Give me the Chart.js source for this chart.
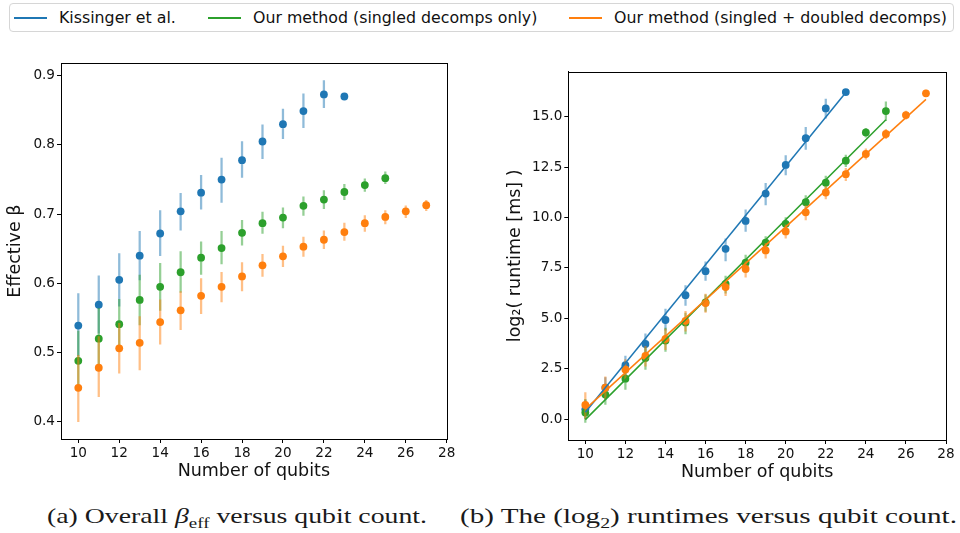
<!DOCTYPE html>
<html><head><meta charset="utf-8">
<script src="https://cdn.jsdelivr.net/npm/chart.js@4/dist/chart.umd.min.js"></script>
<style>
body{margin:0;width:960px;height:533px;background:#fff;position:relative;overflow:hidden;font-family:"DejaVu Sans";}
#legend{position:absolute;left:9px;top:3px;width:945px;height:29px;border:1px solid #d6d6d6;border-radius:4px;box-sizing:border-box;}
.item{position:absolute;top:0;height:27px;display:flex;align-items:center;font-size:15.8px;color:#111;white-space:nowrap}
.sw{display:inline-block;width:33px;height:2px;margin-right:12px}
.wrap{position:absolute;top:40px;width:480px;height:450px}
.cap{position:absolute;top:503px;font-family:"Liberation Serif";font-size:22px;line-height:26px;white-space:nowrap;color:#1a1a1a;transform-origin:0 50%}
.cap sub{font-size:15px;vertical-align:-5px;line-height:0}
</style></head>
<body>
<div id="legend">
  <div class="item" style="left:4px"><span class="sw" style="background:#1f77b4"></span><span id="l0"></span></div>
  <div class="item" style="left:198px"><span class="sw" style="background:#2ca02c"></span><span id="l1"></span></div>
  <div class="item" style="left:559px"><span class="sw" style="background:#ff7f0e"></span><span id="l2"></span></div>
</div>
<div class="wrap" style="left:0"><canvas id="c1" width="480" height="450"></canvas></div>
<div class="wrap" style="left:480px"><canvas id="c2" width="480" height="450"></canvas></div>
<div class="cap" id="capA" style="left:47px">(a) Overall <i>β</i><sub>eff</sub> versus qubit count.</div>
<div class="cap" id="capB" style="left:460px">(b) The (log<sub>2</sub>) runtimes versus qubit count.</div>
<script>
// ---- series names ----
const seriesNames = ["Kissinger et al.", "Our method (singled decomps only)", "Our method (singled + doubled decomps)"];
const seriesColors = ["#1f77b4", "#2ca02c", "#ff7f0e"];
const seriesErrColors = ["rgba(31,119,180,0.5)", "rgba(44,160,44,0.5)", "rgba(255,127,14,0.5)"];

// ---- qubit counts ----
const qubitsKissinger = [10,11,12,13,14,15,16,17,18,19,20,21,22,23];
const qubitsSingled   = [10,11,12,13,14,15,16,17,18,19,20,21,22,23,24,25];
const qubitsDoubled   = [10,11,12,13,14,15,16,17,18,19,20,21,22,23,24,25,26,27];

// ---- (a) effective beta ----
const betaKissinger   = [0.539,0.569,0.605,0.640,0.672,0.704,0.731,0.750,0.778,0.805,0.830,0.849,0.873,0.870];
const betaKissingerLo = [0.495,0.528,0.567,0.605,0.640,0.677,0.707,0.717,0.753,0.780,0.809,0.825,0.854,0.866];
const betaKissingerHi = [0.585,0.611,0.643,0.675,0.705,0.730,0.756,0.781,0.805,0.829,0.852,0.874,0.893,0.874];

const betaSingled   = [0.488,0.520,0.541,0.576,0.595,0.616,0.637,0.651,0.673,0.687,0.695,0.712,0.721,0.732,0.742,0.752];
const betaSingledLo = [0.445,0.476,0.505,0.540,0.561,0.587,0.613,0.628,0.655,0.672,0.680,0.698,0.708,0.721,0.733,0.744];
const betaSingledHi = [0.531,0.564,0.577,0.612,0.629,0.646,0.660,0.675,0.691,0.703,0.709,0.725,0.734,0.743,0.751,0.761];

const betaDoubled   = [0.449,0.478,0.506,0.514,0.544,0.561,0.582,0.595,0.610,0.626,0.639,0.653,0.663,0.674,0.687,0.696,0.704,0.713];
const betaDoubledLo = [0.400,0.436,0.470,0.475,0.512,0.533,0.556,0.573,0.589,0.610,0.624,0.639,0.650,0.662,0.675,0.686,0.695,0.705];
const betaDoubledHi = [0.496,0.523,0.542,0.552,0.576,0.588,0.607,0.616,0.630,0.642,0.654,0.667,0.676,0.687,0.698,0.705,0.712,0.720];

// ---- (b) log2 runtime ----
const logKissinger   = [0.49,1.56,2.68,3.73,4.92,6.15,7.34,8.45,9.83,11.19,12.61,13.93,15.41,16.22];
const logKissingerLo = [0.00,0.99,2.14,3.24,4.41,5.64,6.88,7.85,9.31,10.63,12.11,13.38,14.92,16.10];
const logKissingerHi = [0.95,2.07,3.13,4.23,5.46,6.63,7.80,8.95,10.38,11.70,13.07,14.47,15.87,16.32];

const logSingled   = [0.33,1.22,2.01,3.03,3.90,4.80,5.79,6.71,7.76,8.75,9.69,10.76,11.73,12.82,14.22,15.28];
const logSingledLo = [-0.16,0.74,1.48,2.47,3.36,4.23,5.35,6.25,7.27,8.39,9.31,10.43,11.40,12.52,13.98,14.80];
const logSingledHi = [0.99,1.73,2.55,3.54,4.52,5.26,6.17,7.10,8.14,9.05,10.00,11.09,12.06,13.10,14.42,15.74];

const logDoubled   = [0.71,1.56,2.47,3.14,3.98,4.88,5.76,6.55,7.45,8.37,9.31,10.26,11.24,12.15,13.15,14.14,15.08,16.16];
const logDoubledLo = [0.00,1.02,1.97,2.63,3.45,4.36,5.30,6.13,7.04,7.98,8.98,9.88,10.92,11.83,12.89,13.91,14.88,15.99];
const logDoubledHi = [1.32,2.10,2.96,3.62,4.47,5.35,6.20,6.94,7.81,8.72,9.64,10.59,11.53,12.44,13.40,14.37,15.28,16.32];

// ---- fitted lines (end points) ----
const fitKissingerX = [10, 23], fitKissingerY = [0.35, 16.2];
const fitSingledX   = [10, 25], fitSingledY   = [-0.02, 14.85];
const fitDoubledX   = [10, 27], fitDoubledY   = [0.5, 15.86];

// ---- ticks ----
const xTicks = [10,12,14,16,18,20,22,24,26,28];
const betaTicks = [0.4,0.5,0.6,0.7,0.8,0.9];
const logTicks = [0,2.5,5,7.5,10,12.5,15];

seriesNames.forEach((n,i)=>document.getElementById('l'+i).textContent=n);

// fit captions to the widths of the reference captions
[['capA',380],['capB',497]].forEach(([id,w])=>{
  const el=document.getElementById(id);
  const cw=el.getBoundingClientRect().width;
  el.style.transform='scaleX('+(w/cw)+')';
});

const FONT = "DejaVu Sans";
const pts = (xs, ys) => xs.map((x,i)=>({x:x, y:ys[i]}));
const errs = (xs, lo, hi) => xs.map((x,i)=>({x:x, y:[lo[i], hi[i]]}));

function seriesSets(k, xs, ys, lo, hi){
  return [
    {type:'bar', data: errs(xs, lo, hi), backgroundColor: seriesErrColors[k], borderWidth:0,
     barThickness:1.6, grouped:false, order: 10 + (2-k)*2 + 1},
    {type:'scatter', data: pts(xs, ys), backgroundColor: seriesColors[k], borderWidth:0,
     pointRadius:3.9, pointHoverRadius:3.9, order: 10 + (2-k)*2}
  ];
}
function fitSet(k, xs, ys){
  return {type:'line', data: pts(xs, ys), borderColor: seriesColors[k], borderWidth:1.5,
          pointRadius:0, fill:false, tension:0, order: 0 + (2-k)};
}

const frame = {
  id:'frame',
  afterDraw(chart){
    const {ctx, chartArea:a} = chart;
    ctx.save(); ctx.strokeStyle='#000'; ctx.lineWidth=1;
    ctx.strokeRect(Math.round(a.left)+0.5, Math.round(a.top)+0.5, Math.round(a.right-a.left), Math.round(a.bottom-a.top));
    ctx.restore();
  }
};

function axisX(min, h, titlePadBottom){
  return {type:'linear', min:min, max:28, offset:false,
    afterBuildTicks: s => { s.ticks = xTicks.map(v=>({value:v})); },
    afterFit: s => { s.height = h; },
    grid:{display:true, drawOnChartArea:false, drawTicks:true, tickLength:4, tickColor:'#000', offset:false},
    border:{display:true, color:'#000'},
    ticks:{font:{family:FONT, size:13.6}, color:'#111', padding:2, maxRotation:0, autoSkip:false},
    title:{display:true, text:'Number of qubits', color:'#111', font:{family:FONT, size:17.5}, padding:{top:0, bottom:titlePadBottom}}
  };
}
function axisY(min, max, ticks, w, title, titlePadTop, fmt){
  return {type:'linear', min:min, max:max,
    afterBuildTicks: s => { s.ticks = ticks.map(v=>({value:v})); },
    afterFit: s => { s.width = w; },
    grid:{display:true, drawOnChartArea:false, drawTicks:true, tickLength:4, tickColor:'#000'},
    border:{display:true, color:'#000'},
    ticks:{font:{family:FONT, size:13.6}, color:'#111', padding:2, callback: v => fmt(v)},
    title:{display:true, text:title, color:'#111', font:{family:FONT, size:17.5}, padding:{top:titlePadTop, bottom:0}}
  };
}

const common = {responsive:false, animation:false, events:[],
  plugins:{legend:{display:false}, tooltip:{enabled:false}}};

new Chart(document.getElementById('c1'), {
  type:'scatter',
  data:{datasets:[
    ...seriesSets(0, qubitsKissinger, betaKissinger, betaKissingerLo, betaKissingerHi),
    ...seriesSets(1, qubitsSingled, betaSingled, betaSingledLo, betaSingledHi),
    ...seriesSets(2, qubitsDoubled, betaDoubled, betaDoubledLo, betaDoubledHi)
  ]},
  options:{...common,
    layout:{padding:{left:0, top:23.3, right:33.3, bottom:0}},
    scales:{
      x: axisX(9.155, 51, 8),
      y: axisY(0.375, 0.918, betaTicks, 61, 'Effective β', 5, v => v.toFixed(1))
    }
  },
  plugins:[frame]
});

new Chart(document.getElementById('c2'), {
  type:'scatter',
  data:{datasets:[
    ...seriesSets(0, qubitsKissinger, logKissinger, logKissingerLo, logKissingerHi),
    ...seriesSets(1, qubitsSingled, logSingled, logSingledLo, logSingledHi),
    ...seriesSets(2, qubitsDoubled, logDoubled, logDoubledLo, logDoubledHi),
    fitSet(0, fitKissingerX, fitKissingerY),
    fitSet(1, fitSingledX, fitSingledY),
    fitSet(2, fitDoubledX, fitDoubledY)
  ]},
  options:{...common,
    layout:{padding:{left:0, top:31.7, right:14, bottom:0}},
    scales:{
      x: axisX(9.15, 50, 7.5),
      y: axisY(-1.03, 17.23, logTicks, 88.3, 'log₂( runtime [ms] )', 24.5, v => v.toFixed(1))
    }
  },
  plugins:[frame]
});
</script>
</body></html>
